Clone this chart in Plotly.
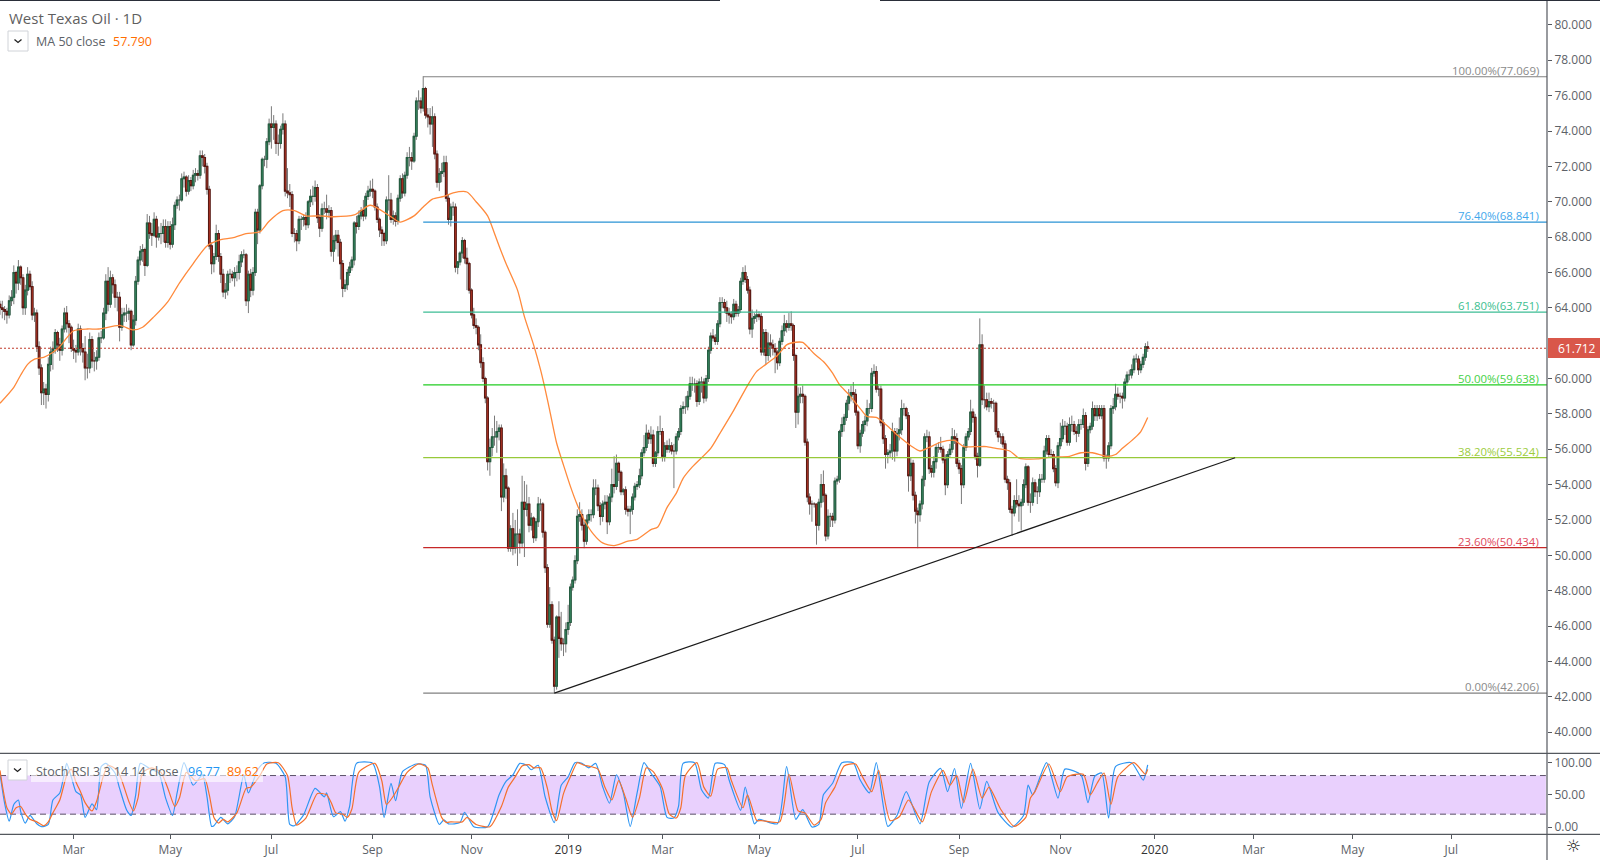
"""West Texas Oil daily chart with fib levels, MA 50 and Stoch RSI pane"""

import plotly.graph_objects as go

# daily bars, ten per row
opens = [
    64.2,64.0,63.9,63.8,63.6,64.4,64.6,66.0,65.4,66.3,
    65.7,64.0,65.0,65.9,65.2,63.6,63.7,61.8,60.6,59.2,
    59.4,59.1,60.8,61.5,61.7,62.6,61.9,61.6,62.8,63.7,
    63.1,62.9,61.7,61.6,61.5,62.8,61.7,61.5,60.6,60.6,
    62.2,61.0,61.0,61.2,62.3,62.3,63.7,65.5,64.2,65.7,
    65.3,64.6,64.6,62.9,63.6,63.7,63.7,63.8,61.9,63.3,
    65.5,66.7,67.2,67.3,66.4,68.8,68.2,68.1,69.0,68.0,
    68.2,68.2,68.6,67.7,68.6,67.6,68.7,69.8,70.1,70.1,
    71.3,71.4,70.6,71.2,70.9,71.5,71.6,71.5,72.6,72.5,
    72.0,70.7,67.5,66.5,66.9,68.2,66.9,65.9,64.9,65.0,
    65.9,65.9,65.7,66.0,66.0,66.6,67.0,67.0,64.4,65.9,
    65.0,66.0,69.4,68.4,70.9,72.4,72.4,73.4,74.4,74.2,
    74.4,73.3,73.3,74.1,74.4,70.6,70.5,70.4,68.2,68.2,
    67.8,69.0,69.0,69.1,68.7,70.0,70.3,70.3,70.8,69.1,
    68.5,69.6,69.6,69.4,69.5,67.2,67.8,68.1,67.7,66.5,
    65.1,65.3,66.0,66.3,66.7,68.8,68.6,69.2,69.5,69.2,
    70.3,70.6,70.7,70.6,69.7,69.0,68.4,68.2,67.8,70.1,
    70.1,69.0,69.2,68.9,70.2,71.3,70.5,71.5,72.5,72.5,
    72.3,73.7,75.7,75.7,75.3,76.4,74.9,74.8,74.4,74.8,
    72.7,71.1,71.6,71.7,72.2,70.2,69.0,69.7,69.7,66.3,
    66.6,67.1,67.8,66.8,66.5,65.0,63.6,63.0,62.9,61.9,
    60.9,60.0,58.9,55.3,56.1,56.7,56.7,57.0,57.2,53.3,
    54.5,53.8,50.4,51.5,50.4,51.2,51.2,50.7,53.0,52.6,
    52.9,51.7,52.1,51.0,51.9,52.9,52.9,51.3,49.3,46.1,
    47.2,45.2,42.6,46.5,45.3,45.0,45.0,45.8,46.2,48.2,
    48.6,49.7,52.2,52.3,51.7,50.8,52.0,52.3,52.3,53.8,
    53.8,52.8,52.2,52.9,53.0,51.9,53.3,54.0,53.9,55.2,
    54.7,53.6,53.7,52.6,52.5,52.6,53.3,53.9,54.0,54.5,
    55.8,56.1,56.9,56.6,56.8,55.2,55.8,57.0,57.0,55.6,
    56.2,56.0,56.2,55.9,55.9,56.7,57.0,58.3,58.4,58.4,
    59.0,59.7,59.7,59.7,58.7,59.8,59.8,58.9,60.0,61.6,
    62.4,62.3,62.1,63.1,64.3,64.3,64.0,63.7,63.6,63.5,
    64.2,63.7,63.9,65.5,66.0,65.6,65.0,62.8,63.4,63.5,
    63.6,63.5,61.5,62.6,61.3,62.0,61.9,61.7,61.5,60.9,
    62.1,62.7,63.1,62.9,63.1,63.0,61.3,58.1,59.0,59.1,
    59.0,56.4,53.3,52.9,52.9,52.9,51.7,53.0,54.0,53.4,
    51.1,52.2,52.2,52.0,54.2,54.3,57.0,57.4,57.8,58.6,
    59.0,59.2,59.1,58.1,56.2,56.9,57.4,57.6,58.3,58.3,
    60.3,60.4,59.4,59.4,57.5,56.6,55.7,55.8,55.9,57.0,
    55.9,56.9,57.1,58.3,58.3,57.9,54.5,55.2,53.4,52.5,
    52.3,52.9,54.3,56.7,56.7,54.9,54.7,55.3,56.1,56.1,
    56.0,55.4,54.0,55.7,56.0,56.7,56.6,55.2,54.9,54.0,
    56.1,56.7,57.0,58.1,57.8,55.6,55.1,61.9,58.8,58.8,
    58.4,58.7,58.6,58.6,57.0,56.7,56.7,56.3,54.3,54.1,
    52.6,52.4,53.1,52.9,52.8,53.0,54.0,55.0,53.0,53.0,
    54.1,53.6,53.6,54.3,54.3,55.9,56.6,55.7,55.7,54.9,
    54.1,56.2,56.6,57.3,57.3,56.4,57.4,57.4,57.0,56.9,
    57.4,57.4,57.9,55.2,57.1,57.3,58.3,57.9,58.3,57.9,
    58.3,55.5,55.5,56.2,58.3,58.4,59.1,59.0,59.0,58.9,
    59.8,60.2,60.2,60.5,61.1,61.1,60.5,60.8,61.2,61.8,
]
highs = [
    64.4,64.4,64.1,64.0,64.7,65.0,66.4,66.1,66.7,66.4,
    65.9,65.3,66.3,66.1,65.5,64.0,63.9,62.1,60.8,59.8,
    59.7,61.2,61.8,62.1,62.8,62.7,62.3,63.0,64.0,64.1,
    63.3,63.0,62.2,61.9,63.1,63.0,62.0,62.4,61.4,62.6,
    62.4,61.5,61.6,62.6,62.7,64.0,65.9,66.3,66.1,65.9,
    65.6,64.9,64.9,64.0,64.0,64.2,64.0,63.9,63.6,65.8,
    66.9,67.5,67.6,67.4,69.3,69.2,68.8,69.4,69.2,68.6,
    68.8,69.0,69.0,68.9,68.9,69.1,70.0,70.3,70.4,71.6,
    71.7,71.5,71.5,71.4,71.8,71.9,71.8,72.9,72.9,72.7,
    72.2,70.9,67.7,67.1,68.7,68.4,67.1,66.2,65.4,66.1,
    66.2,66.1,66.3,66.4,67.0,67.2,67.3,67.1,66.1,66.2,
    66.3,69.6,69.6,71.0,72.5,72.6,73.6,74.7,75.4,74.9,
    74.6,73.8,74.3,75.0,74.6,71.9,71.0,70.6,68.5,68.4,
    69.2,69.2,69.3,69.4,70.1,70.7,70.9,71.2,71.0,69.3,
    69.9,70.0,70.4,69.8,69.7,68.1,68.4,68.4,67.9,66.7,
    65.6,66.2,66.6,66.9,68.9,69.2,69.5,69.7,70.1,70.5,
    70.9,71.2,71.3,70.7,69.9,69.1,68.6,68.3,70.3,71.5,
    70.5,69.5,69.4,70.4,71.5,71.6,71.7,72.8,73.1,72.8,
    73.9,75.9,76.3,75.9,77.1,76.5,75.3,75.3,75.4,75.0,
    72.9,71.9,72.2,72.6,72.6,70.4,69.9,70.0,69.9,66.6,
    67.2,68.0,67.9,67.4,66.6,65.1,64.0,63.4,63.0,62.5,
    61.2,60.1,59.0,56.6,57.2,57.9,57.6,57.4,57.4,55.2,
    54.9,53.9,51.7,52.4,52.0,52.6,51.5,54.5,54.2,54.0,
    53.3,52.4,52.2,52.1,53.3,53.2,53.0,51.4,49.5,48.2,
    47.4,45.4,46.6,47.4,46.8,45.3,46.2,47.2,48.4,48.8,
    50.0,52.6,53.0,52.6,51.9,52.3,52.6,52.6,54.3,54.3,
    54.0,53.0,53.1,53.4,53.4,53.5,54.9,55.6,55.7,55.3,
    54.8,53.8,53.9,52.8,52.8,53.5,54.1,54.2,54.9,56.0,
    56.8,57.4,57.1,57.3,57.1,55.9,57.3,57.9,57.2,56.4,
    56.5,56.6,56.4,56.3,56.9,57.2,58.5,58.7,59.0,59.3,
    60.1,60.1,60.0,59.9,60.0,60.1,60.0,60.2,61.8,62.6,
    62.8,62.5,63.3,64.6,64.6,64.5,64.4,64.0,63.8,64.5,
    64.4,64.1,65.7,66.3,66.4,65.8,65.2,63.9,63.7,63.9,
    63.8,63.7,62.8,62.8,62.6,62.5,62.2,62.0,61.6,62.3,
    63.0,63.6,63.3,63.7,63.8,63.1,61.4,59.5,59.5,59.6,
    59.1,56.6,53.5,53.1,53.0,52.9,53.2,54.6,54.8,53.5,
    52.6,52.4,52.4,54.4,54.5,57.1,57.8,58.0,58.8,59.4,
    59.6,59.8,59.4,58.2,57.1,57.6,57.9,58.8,58.6,60.6,
    60.8,60.7,59.6,59.6,57.7,56.8,56.0,56.3,57.5,57.2,
    57.2,57.8,58.8,58.6,58.4,58.1,55.5,55.4,53.6,52.7,
    53.1,54.5,56.9,57.1,57.0,55.1,55.6,56.3,56.4,56.7,
    56.2,55.7,55.9,56.3,57.2,57.1,56.9,55.4,55.1,56.3,
    56.9,57.2,58.8,58.3,58.0,55.8,63.4,62.5,59.6,59.2,
    59.2,58.9,58.8,58.7,57.2,56.9,56.9,56.5,54.5,54.3,
    52.8,53.4,54.3,53.4,53.2,54.3,55.2,55.1,53.5,54.4,
    54.3,53.9,54.6,54.6,56.2,56.8,56.8,56.0,55.9,55.1,
    56.4,57.5,57.7,57.6,57.5,57.8,57.9,57.6,57.3,57.7,
    57.7,58.3,58.1,57.3,57.5,58.7,58.5,58.5,58.5,58.5,
    58.5,55.7,56.4,58.5,58.9,59.7,59.5,59.2,59.2,60.0,
    60.4,60.5,60.8,61.3,61.4,61.3,61.0,61.4,62.0,62.1,
]
lows = [
    63.6,63.4,63.3,63.1,63.4,64.1,64.2,64.8,65.0,65.3,
    63.6,63.6,64.7,65.0,63.3,63.2,61.5,60.2,58.5,58.5,
    58.3,58.7,60.4,60.5,61.4,61.5,61.0,61.3,62.6,62.6,
    62.0,61.5,61.1,60.9,61.3,61.3,60.9,59.9,60.0,60.3,
    60.6,60.4,60.5,61.0,62.0,62.2,63.3,63.8,64.0,64.8,
    64.0,63.8,62.1,62.7,63.2,63.2,63.3,61.6,61.8,63.0,
    65.3,66.4,66.6,65.8,66.3,67.9,67.5,68.0,67.4,67.8,
    67.6,67.7,67.4,67.4,67.3,67.4,68.4,69.6,69.5,70.0,
    70.8,70.3,70.4,70.6,70.7,71.1,71.2,71.3,72.0,71.6,
    70.4,67.3,65.9,66.0,66.7,66.6,65.4,64.6,64.5,64.7,
    65.4,65.5,65.2,65.5,65.6,66.3,66.8,64.1,63.7,64.6,
    64.7,65.8,67.6,68.2,70.7,72.0,71.9,73.2,73.0,73.5,
    72.7,72.6,73.0,73.8,70.3,70.2,69.7,68.0,67.7,67.2,
    67.6,68.4,68.6,68.4,68.5,69.7,69.8,70.0,68.8,68.0,
    68.3,69.3,69.0,69.1,66.9,66.6,67.3,66.9,65.6,64.6,
    64.9,65.0,65.8,66.1,66.4,68.2,68.4,69.0,68.9,69.0,
    70.1,70.3,70.2,69.5,68.8,68.0,67.5,67.5,67.6,69.5,
    68.8,68.7,68.6,68.7,70.0,70.2,70.3,71.3,72.0,71.8,
    72.2,73.5,75.2,75.0,75.1,74.7,74.2,73.8,73.1,72.4,
    70.8,70.6,71.1,71.4,70.0,68.7,68.6,69.2,66.0,65.9,
    66.4,66.8,66.5,65.0,64.8,63.4,62.8,62.5,61.6,60.6,
    59.8,58.6,54.8,54.5,55.6,56.2,55.8,56.5,52.5,53.0,
    53.2,50.2,50.2,50.0,50.1,49.4,50.1,50.4,49.9,52.2,
    51.3,51.4,50.7,50.8,51.6,52.5,51.0,49.0,45.9,45.9,
    45.0,42.2,42.4,44.2,44.6,44.3,44.5,45.5,46.0,48.0,
    48.4,49.5,51.9,51.4,50.4,50.6,51.8,51.9,52.1,53.4,
    52.5,51.7,51.9,52.6,51.2,51.7,53.0,53.5,53.7,54.2,
    53.4,53.4,52.3,52.2,51.2,52.3,53.1,53.7,53.8,54.3,
    55.6,55.9,56.3,56.3,55.0,55.0,55.6,56.8,55.3,55.3,
    55.8,55.8,55.7,53.8,55.7,56.5,56.8,58.0,58.0,58.2,
    58.8,59.3,59.2,58.4,58.5,59.2,58.6,58.7,59.8,61.4,
    62.1,61.9,61.9,62.9,64.0,63.7,63.2,63.1,63.1,63.3,
    63.5,63.5,63.7,65.3,65.4,64.8,62.5,62.3,63.1,63.2,
    63.3,61.3,61.3,60.8,61.0,61.2,61.3,60.3,60.5,60.7,
    61.9,62.4,62.6,62.7,62.7,61.0,57.2,57.4,58.6,58.6,
    56.2,53.0,52.3,51.9,52.7,50.6,51.4,52.7,53.0,50.8,
    50.9,51.6,51.6,51.8,54.0,54.1,56.7,57.0,57.6,58.2,
    58.7,58.6,57.9,56.0,55.8,56.7,57.0,57.3,58.0,58.1,
    60.1,59.2,59.0,57.3,56.3,54.9,55.2,55.5,55.4,55.3,
    55.6,56.5,56.8,57.9,57.7,53.6,54.2,53.1,51.8,50.4,
    51.9,52.6,53.9,56.4,54.6,54.4,54.4,54.9,55.8,55.8,
    55.2,53.4,53.8,55.5,55.8,56.3,55.0,54.6,52.9,53.8,
    55.9,56.5,56.8,57.5,55.4,54.4,55.0,58.5,58.3,58.2,
    58.1,58.3,58.1,56.8,56.4,56.3,56.1,54.1,53.7,52.4,
    51.1,52.2,52.7,51.9,51.4,52.8,53.8,52.8,52.4,52.8,
    53.3,52.9,53.3,54.1,54.1,55.7,55.5,55.5,54.7,53.9,
    53.8,56.0,56.4,56.8,56.2,56.2,57.0,56.8,56.4,56.7,
    57.1,57.2,54.8,55.0,56.9,57.1,57.6,57.6,57.7,57.7,
    55.3,54.9,55.3,56.0,58.0,58.2,58.8,58.6,58.3,58.7,
    59.6,59.9,60.0,60.3,60.9,60.2,60.3,60.6,61.0,61.5,
]
closes = [
    64.0,63.9,63.8,63.6,64.4,64.6,66.0,65.4,66.3,65.7,
    64.0,65.0,65.9,65.2,63.6,63.7,61.8,60.6,59.2,59.4,
    59.1,60.8,61.5,61.7,62.6,61.9,61.6,62.8,63.7,63.1,
    62.9,61.7,61.6,61.5,62.8,61.7,61.5,60.6,60.6,62.2,
    61.0,61.0,61.2,62.3,62.3,63.7,65.5,64.2,65.7,65.3,
    64.6,64.6,62.9,63.6,63.7,63.7,63.8,61.9,63.3,65.5,
    66.7,67.2,67.3,66.4,68.8,68.2,68.1,69.0,68.0,68.2,
    68.2,68.6,67.7,68.6,67.6,68.7,69.8,70.1,70.1,71.3,
    71.4,70.6,71.2,70.9,71.5,71.6,71.5,72.6,72.5,72.0,
    70.7,67.5,66.5,66.9,68.2,66.9,65.9,64.9,65.0,65.9,
    65.9,65.7,66.0,66.0,66.6,67.0,67.0,64.4,65.9,65.0,
    66.0,69.4,68.4,70.9,72.4,72.4,73.4,74.4,74.2,74.4,
    73.3,73.3,74.1,74.4,70.6,70.5,70.4,68.2,68.2,67.8,
    69.0,69.0,69.1,68.7,70.0,70.3,70.3,70.8,69.1,68.5,
    69.6,69.6,69.4,69.5,67.2,67.8,68.1,67.7,66.5,65.1,
    65.3,66.0,66.3,66.7,68.8,68.6,69.2,69.5,69.2,70.3,
    70.6,70.7,70.6,69.7,69.0,68.4,68.2,67.8,70.1,70.1,
    69.0,69.2,68.9,70.2,71.3,70.5,71.5,72.5,72.5,72.3,
    73.7,75.7,75.7,75.3,76.4,74.9,74.8,74.4,74.8,72.7,
    71.1,71.6,71.7,72.2,70.2,69.0,69.7,69.7,66.3,66.6,
    67.1,67.8,66.8,66.5,65.0,63.6,63.0,62.9,61.9,60.9,
    60.0,58.9,55.3,56.1,56.7,56.7,57.0,57.2,53.3,54.5,
    53.8,50.4,51.5,50.4,51.2,51.2,50.7,53.0,52.6,52.9,
    51.7,52.1,51.0,51.9,52.9,52.9,51.3,49.3,46.1,47.2,
    45.2,42.6,46.5,45.3,45.0,45.0,45.8,46.2,48.2,48.6,
    49.7,52.2,52.3,51.7,50.8,52.0,52.3,52.3,53.8,53.8,
    52.8,52.2,52.9,53.0,51.9,53.3,54.0,53.9,55.2,54.7,
    53.6,53.7,52.6,52.5,52.6,53.3,53.9,54.0,54.5,55.8,
    56.1,56.9,56.6,56.8,55.2,55.8,57.0,57.0,55.6,56.2,
    56.0,56.2,55.9,55.9,56.7,57.0,58.3,58.4,58.4,59.0,
    59.7,59.7,59.7,58.7,59.8,59.8,58.9,60.0,61.6,62.4,
    62.3,62.1,63.1,64.3,64.3,64.0,63.7,63.6,63.5,64.2,
    63.7,63.9,65.5,66.0,65.6,65.0,62.8,63.4,63.5,63.6,
    63.5,61.5,62.6,61.3,62.0,61.9,61.7,61.5,60.9,62.1,
    62.7,63.1,62.9,63.1,63.0,61.3,58.1,59.0,59.1,59.0,
    56.4,53.3,52.9,52.9,52.9,51.7,53.0,54.0,53.4,51.1,
    52.2,52.2,52.0,54.2,54.3,57.0,57.4,57.8,58.6,59.0,
    59.2,59.1,58.1,56.2,56.9,57.4,57.6,58.3,58.3,60.3,
    60.4,59.4,59.4,57.5,56.6,55.7,55.8,55.9,57.0,55.9,
    56.9,57.1,58.3,58.3,57.9,54.5,55.2,53.4,52.5,52.3,
    52.9,54.3,56.7,56.7,54.9,54.7,55.3,56.1,56.1,56.0,
    55.4,54.0,55.7,56.0,56.7,56.6,55.2,54.9,54.0,56.1,
    56.7,57.0,58.1,57.8,55.6,55.1,61.9,58.8,58.8,58.4,
    58.7,58.6,58.6,57.0,56.7,56.7,56.3,54.3,54.1,52.6,
    52.4,53.1,52.9,52.8,53.0,54.0,55.0,53.0,53.0,54.1,
    53.6,53.6,54.3,54.3,55.9,56.6,55.7,55.7,54.9,54.1,
    56.2,56.6,57.3,57.3,56.4,57.4,57.4,57.0,56.9,57.4,
    57.4,57.9,55.2,57.1,57.3,58.3,57.9,58.3,57.9,58.3,
    55.5,55.5,56.2,58.3,58.4,59.1,59.0,59.0,58.9,59.8,
    60.2,60.2,60.5,61.1,61.1,60.5,60.8,61.2,61.8,61.712,
]

# MA 50, read at the bars where the line bends
ma_bars = [0,6,9,12,15,19,22,26,29,32,38,43,52,58,62,67,73,78,84,90,96,101,107,113,117,123,128,133,139,145,154,161,
           170,174,180,184,188,193,197,203,207,212,215,217,220,225,228,232,235,237,239,242,245,248,251,254,258,262,
           267,273,277,283,286,290,294,297,301,309,313,319,325,329,333,338,342,346,349,354,358,362,365,369,374,377,
           381,386,391,396,400,404,409,415,419,425,429,433,439,443,451,457,465,470,475,481,485,488,493,496,499]
ma_values = [58.6,59.5,60.2,60.8,61.1,61.2,61.4,61.8,62.3,62.7,62.8,62.8,63.0,62.75,62.9,63.5,64.35,65.4,66.5,67.5,
             67.85,67.95,68.2,68.3,68.9,69.5,69.5,69.2,69.2,69.15,69.25,69.8,69.15,68.85,69.2,69.7,70.15,70.3,70.5,
             70.55,70.0,69.2,68.2,67.5,66.5,65.0,63.5,61.9,60.5,59.4,58.2,56.35,55.1,53.9,52.85,52.0,51.2,50.7,50.55,
             50.8,50.9,51.45,51.6,52.7,53.5,54.35,55.0,56.05,56.9,58.2,59.6,60.4,60.8,61.3,61.9,62.05,62.04,61.4,60.96,
             60.3,59.65,59.1,58.3,57.85,57.8,57.3,56.7,56.2,55.9,56.1,56.4,56.5,56.15,56.15,56.15,56.05,55.9,55.5,55.45,
             55.55,55.6,55.8,55.8,55.6,55.7,56.05,56.6,57.0,57.79]

# Stoch RSI
k_bars = [0,2,4,6,8,9,11,13,16,18,21,23,26,28,29,31,33,35,37,40,42,44,46,50,52,55,57,59,61,65,69,72,75,77,80,84,88,90,92,
          93,96,99,102,106,108,112,115,120,124,126,128,132,137,141,142,145,148,150,152,155,162,165,167,170,172,175,181,
          185,187,191,193,195,200,202,206,212,217,220,223,226,229,231,234,237,241,244,247,250,253,256,259,262,265,268,
          271,274,277,280,283,287,290,293,295,297,302,305,308,311,315,317,322,324,328,330,338,342,346,349,353,356,358,
          362,366,371,374,378,381,386,390,394,400,404,409,412,415,418,422,426,429,434,440,445,447,449,455,460,463,470,
          473,476,479,482,485,492,497,499]
k_values = [83,37,9,35,42,24,6,18,5,0.5,4,42,53,84,99,78,55,50,15,36,27,94,99,84,60,27,18,50,99,91,84,45,18,53,100,65,81,47,1,
            2,15,5,16,81,53,89,100,99,78,4,2,19,60,47,53,16,24,9,32,99,99,63,15,68,41,86,98,
            96,47,4,11,5,7,23,0.5,0.5,50,71,81,99,96,89,96,47,7,65,78,100,99,92,99,63,37,81,
            53,1,53,100,84,63,15,14,32,99,100,58,45,99,97,73,26,62,5,12,5,94,12,27,0,4,50,
            68,100,100,73,53,100,1,18,55,5,70,91,55,91,29,99,28,71,22,0,18,65,50,100,45,90,81,
            38,79,84,14,94,100,73,96.77]
d_bars = [0,1,3,5,7,9,11,13,16,19,21,23,26,29,31,33,35,37,40,42,45,47,51,53,56,58,60,62,66,70,73,76,78,81,85,89,91,93,95,97,
          99,103,107,109,113,116,121,125,127,129,133,138,142,144,146,149,151,153,156,163,166,168,171,173,177,182,186,188,
          192,194,196,201,203,207,213,218,221,224,227,230,232,235,238,240,242,245,248,251,254,257,260,263,266,269,272,275,
          278,281,284,288,291,294,296,298,303,306,309,312,316,318,323,325,329,331,339,343,347,350,354,357,359,363,367,372,
          375,379,382,387,391,395,401,405,410,413,416,419,423,427,430,435,441,446,448,450,456,461,464,471,474,477,480,483,
          486,493,498,499]
d_values = [88,65,30,20,30,32,20,12,8,2,8,22,42,80,90,70,55,38,25,40,80,96,88,72,40,25,45,85,92,85,60,32,45,85,72,75,50,15,6,12,
            8,22,60,62,80,98,100,80,30,3,14,52,50,38,22,20,15,28,85,99,72,35,48,60,85,98,92,65,
            15,7,8,8,15,4,0.5,32,62,78,95,97,92,92,60,25,10,52,78,100,96,94,90,62,42,72,45,15,
            45,92,86,60,20,14,30,80,100,62,48,90,92,72,30,50,10,10,8,82,25,22,3,12,38,62,95,98,
            78,55,88,10,16,42,8,55,88,65,80,38,90,45,62,28,1,15,45,55,98,55,78,82,50,68,84,35,
            78,100,82,89.62]

# fibonacci levels
fib_levels = [77.069, 68.841, 63.751, 59.638, 55.524, 50.434, 42.206]
fib_names = ["100.00%", "76.40%", "61.80%", "50.00%", "38.20%", "23.60%", "0.00%"]
fib_colors = ["#808080", "#2a93d5", "#3dbd95", "#22cc22", "#97c93a", "#c62828", "#808080"]
fib_text_colors = ["#8a8a8a", "#3fa7ec", "#3cc08f", "#45d145", "#9ccc3c", "#e0485a", "#8a8a8a"]
fib_start_bar = 184
fib_end_bar = 672.6

trend_bars = [241, 537]
trend_values = [42.2, 55.52]

# 62.000 is left out, the last price tag sits on that spot
price_ticks = [40, 42, 44, 46, 48, 50, 52, 54, 56, 58, 60, 64, 66, 68, 70, 72, 74, 76, 78, 80]
tick_bars = [32, 74, 118, 162, 205, 247, 288, 330, 373, 417, 461, 502, 545, 588, 631]
tick_labels = ["Mar", "May", "Jul", "Sep", "Nov", '<span style="color:#333">2019</span>', "Mar", "May", "Jul", "Sep",
               "Nov", '<span style="color:#333">2020</span>', "Mar", "May", "Jul"]

W, H = 1600, 860
AXIS_X = 1547
PANE_SPLIT = 753.3
PANE_BOTTOM = 834.3
FONT = "Open Sans"
TEXT_GREY = "#5d6268"
BORDER = "#54585e"


def fx(x):
    return x / W


def fy(y):
    return 1 - y / H


bars = list(range(len(closes)))
body_tops = [max(o, c) for o, c in zip(opens, closes)]
body_bottoms = [min(o, c) for o, c in zip(opens, closes)]

fig = go.Figure()

# wicks in grey first, then the bodies with their dark outline on top
fig.add_trace(go.Candlestick(
    x=bars, open=opens, high=highs, low=lows, close=closes,
    increasing=dict(line=dict(color="#7a7a7a", width=1), fillcolor="#7a7a7a"),
    decreasing=dict(line=dict(color="#7a7a7a", width=1), fillcolor="#7a7a7a"),
    whiskerwidth=0, hoverinfo="skip", showlegend=False,
))
fig.add_trace(go.Candlestick(
    x=bars, open=opens, high=body_tops, low=body_bottoms, close=closes,
    increasing=dict(line=dict(color="#245c40", width=1.1), fillcolor="#3f9a6e"),
    decreasing=dict(line=dict(color="#5a1812", width=1.1), fillcolor="#e2442f"),
    whiskerwidth=0, hoverinfo="skip", showlegend=False,
))

fig.add_trace(go.Scatter(x=ma_bars, y=ma_values, mode="lines",
                         line=dict(color="#ff8a3c", width=1.3, shape="spline", smoothing=0.7),
                         hoverinfo="skip", showlegend=False))

for level, color in zip(fib_levels, fib_colors):
    fig.add_trace(go.Scatter(x=[fib_start_bar, fib_end_bar], y=[level, level], mode="lines",
                             line=dict(color=color, width=1.2), hoverinfo="skip", showlegend=False))

fig.add_trace(go.Scatter(x=trend_bars, y=trend_values, mode="lines",
                         line=dict(color="#1a1a1a", width=1.2), hoverinfo="skip", showlegend=False))

fig.add_trace(go.Scatter(x=[0, fib_end_bar], y=[closes[-1], closes[-1]], mode="lines",
                         line=dict(color="#c0392b", width=1, dash="2px,2px"), hoverinfo="skip", showlegend=False))

fig.add_trace(go.Scatter(x=k_bars, y=k_values, mode="lines", yaxis="y2",
                         line=dict(color="#2f96f3", width=1.2, shape="spline", smoothing=0.6),
                         hoverinfo="skip", showlegend=False))
fig.add_trace(go.Scatter(x=d_bars, y=d_values, mode="lines", yaxis="y2",
                         line=dict(color="#f4702e", width=1.2, shape="spline", smoothing=0.6),
                         hoverinfo="skip", showlegend=False))

fig.update_layout(
    width=W, height=H,
    margin=dict(l=0, r=0, t=0, b=0),
    paper_bgcolor="white", plot_bgcolor="white",
    font=dict(family=FONT, size=12, color=TEXT_GREY),
    boxgap=0,
    showlegend=False,
    xaxis=dict(
        domain=[0, AXIS_X / W], range=[0, fib_end_bar], anchor="y2",
        tickmode="array", tickvals=tick_bars, ticktext=tick_labels,
        ticks="outside", ticklen=4, tickcolor=BORDER, showgrid=False, zeroline=False,
        rangeslider=dict(visible=False),
    ),
    yaxis=dict(
        domain=[fy(PANE_SPLIT), 1], range=[38.8, 81.41], side="right", anchor="x",
        tickmode="array", tickvals=price_ticks, tickformat=".3f",
        ticks="outside", ticklen=4, tickcolor=BORDER, showgrid=False, zeroline=False,
    ),
    yaxis2=dict(
        domain=[fy(PANE_BOTTOM), fy(PANE_SPLIT)], range=[-11.3, 114.6], side="right", anchor="x",
        tickmode="array", tickvals=[0, 50, 100], tickformat=".2f",
        ticks="outside", ticklen=4, tickcolor=BORDER, showgrid=False, zeroline=False,
    ),
)

# stoch band and its dashed bounds
fig.add_shape(type="rect", xref="x", yref="y2", x0=0, x1=fib_end_bar - 0.5, y0=20, y1=80,
              fillcolor="#e9d0fd", line_width=0, layer="below")
for bound in [20, 80]:
    fig.add_shape(type="line", xref="x", yref="y2", x0=0, x1=fib_end_bar - 0.5, y0=bound, y1=bound,
                  line=dict(color="#5a4f66", width=1, dash="6px,4px"), layer="below")

# pane borders, all in screen pixels
for x0, y0, x1, y1 in [(0, PANE_SPLIT, W, PANE_SPLIT), (0, PANE_BOTTOM, W, PANE_BOTTOM),
                       (AXIS_X, 0, AXIS_X, H), (0, 0.5, 720, 0.5), (880, 0.5, W, 0.5)]:
    fig.add_shape(type="line", xref="paper", yref="paper", x0=fx(x0), y0=fy(y0), x1=fx(x1), y1=fy(y1),
                  line=dict(color=BORDER if y0 > 1 or x0 == AXIS_X else "#2a2e39", width=1.2))

# white strip behind the stoch legend
fig.add_shape(type="rect", xref="paper", yref="paper", x0=fx(31), x1=fx(263), y0=fy(759), y1=fy(782),
              fillcolor="rgba(255,255,255,0.62)", line_width=0)

# legend buttons with chevrons
for x0, y0, x1, y1 in [(8, 31, 28, 51), (8, 760, 27, 780)]:
    fig.add_shape(type="rect", xref="paper", yref="paper", x0=fx(x0), x1=fx(x1), y0=fy(y0), y1=fy(y1),
                  fillcolor="white", line=dict(color="#d0d3d8", width=1))
    mx, my = (x0 + x1) / 2, (y0 + y1) / 2
    fig.add_shape(type="path", xref="paper", yref="paper",
                  path=f"M {fx(mx - 3.5)} {fy(my - 1.5)} L {fx(mx)} {fy(my + 1.5)} L {fx(mx + 3.5)} {fy(my - 1.5)}",
                  line=dict(color="#222", width=1.3))

# price tag for the last close
fig.add_shape(type="rect", xref="paper", yref="paper", x0=fx(AXIS_X + 1), x1=fx(W), y0=fy(338), y1=fy(358),
              fillcolor="#d9574a", line_width=0)


def label(x, y, text, color=TEXT_GREY, size=12, anchor="left", family=FONT):
    fig.add_annotation(xref="paper", yref="paper", x=fx(x), y=fy(y), text=text, showarrow=False,
                       xanchor=anchor, yanchor="middle", font=dict(color=color, size=size, family=family))


label(7, 18, "West Texas Oil · 1D", color="#5f5f5f", size=15)
label(34, 41, "MA 50 close", size=12.5)
label(111, 41, "57.790", color="#ff6d00", size=12.5)
label(34, 771, "Stoch RSI 3 3 14 14 close", size=12.5)
label(186, 771, "96.77", color="#2196f3", size=12.5)
label(225, 771, "89.62", color="#ff6d00", size=12.5)
label(1556, 348, "61.712", color="white", size=12)
label(1573, 846, "☼", color="#222", size=17, anchor="center", family="DejaVu Sans")

for level, name, color in zip(fib_levels, fib_names, fib_text_colors):
    fig.add_annotation(xref="paper", yref="y", x=fx(1541), y=level, text=f"{name}({level:.3f})",
                       showarrow=False, xanchor="right", yanchor="bottom", yshift=-3,
                       font=dict(color=color, size=11.4))

# the browser's default body margin would shift the whole picture
fig.write_html("out.html", config={"displayModeBar": False}, post_script="document.body.style.margin='0';")
